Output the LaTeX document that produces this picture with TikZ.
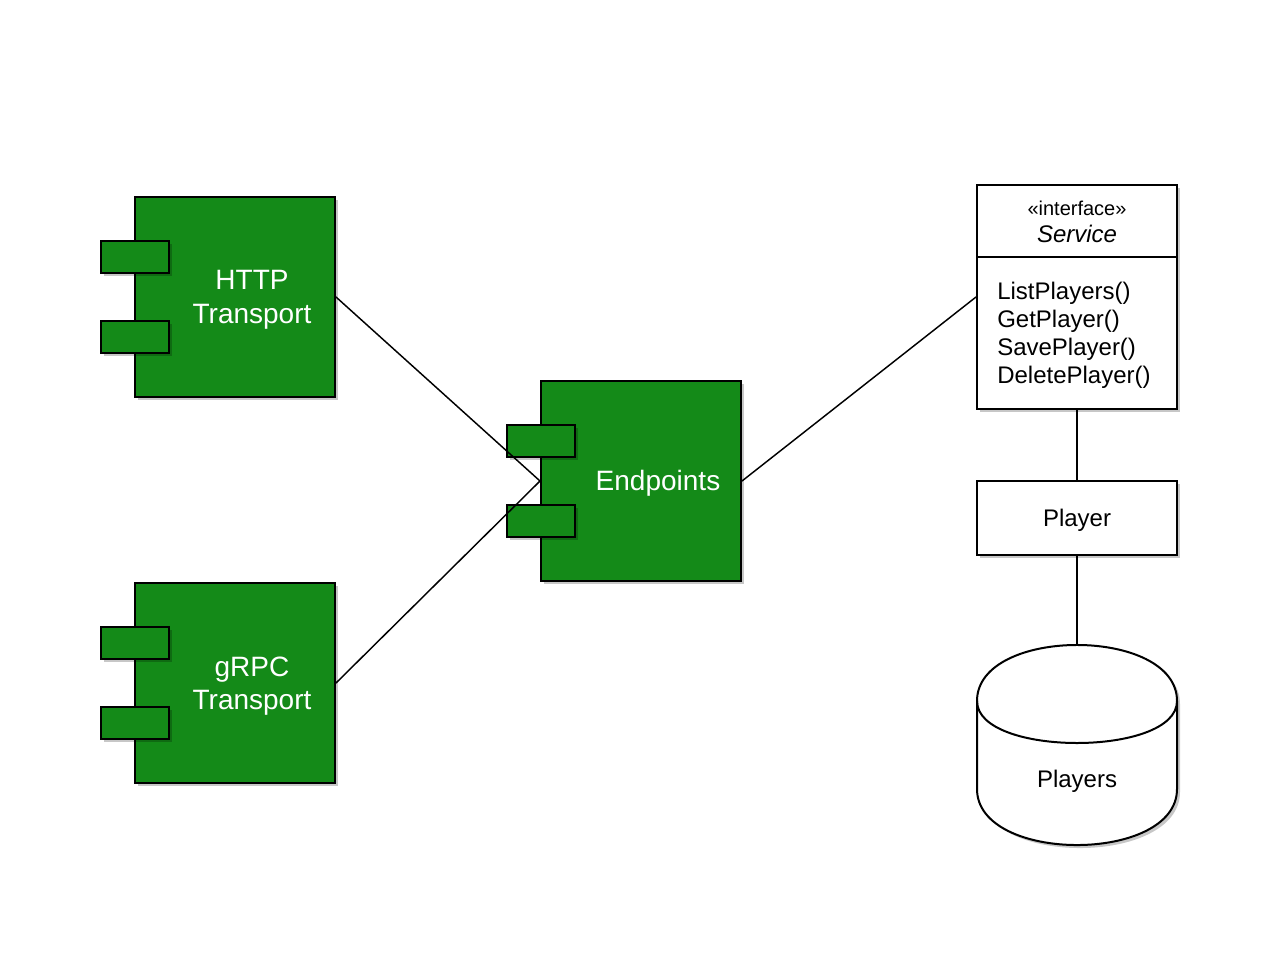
\documentclass[tikz,border=0pt]{standalone}
\usepackage{fontspec}
\setmainfont{Liberation Sans}
\usetikzlibrary{shadows}
\definecolor{compgreen}{RGB}{20,138,24}
\begin{document}
\begin{tikzpicture}[x=0.75pt,y=-0.75pt,
  shade/.style={drop shadow={shadow xshift=2.2pt,shadow yshift=-2.2pt,opacity=0.22,fill=black}},
  comp/.style={draw=black,line width=1.5pt,fill=compgreen,minimum width=150pt,minimum height=150pt,inner sep=0pt,shade},
  port/.style={draw=black,line width=1.5pt,fill=compgreen,minimum width=51pt,minimum height=24pt,inner sep=0pt,shade},
  complabel/.style={text=white,align=center,inner sep=0pt,font=\fontsize{21}{25.2}\selectfont},
  whitebox/.style={draw=black,line width=1.5pt,fill=white,minimum width=150pt,inner sep=0pt,shade},
  txt/.style={inner sep=0pt,font=\fontsize{18}{21}\selectfont},
  conn/.style={draw=black,line width=1.1pt}]
\useasboundingbox (0,0) rectangle (1280,960);

% HTTP Transport
\node[comp] (http) at (235,297) {};
\node[port] (httpp1) at (135,257) {};
\node[port] (httpp2) at (135,337) {};
\node[complabel] (httpl) at (252,300) {HTTP\\Transport};

% gRPC Transport
\node[comp] (grpc) at (235,683) {};
\node[port] (grpcp1) at (135,643) {};
\node[port] (grpcp2) at (135,723) {};
\node[complabel] (grpcl) at (252,686) {gRPC\\Transport};

% Endpoints
\node[comp] (endp) at (641,481) {};
\node[port] (endpp1) at (541,441) {};
\node[port] (endpp2) at (541,521) {};
\node[complabel] (endpl) at (658,483) {Endpoints};

% Service interface
\node[whitebox,minimum height=168pt] (svc) at (1077,297) {};
\draw[line width=1.5pt] (977,257) -- (1177,257);
\node[inner sep=0pt,font=\fontsize{15}{18}\selectfont] (svcst) at (1077,208.5) {«interface»};
\node[inner sep=0pt,font=\fontsize{18}{21}\selectfont\itshape] (svcname) at (1077,234) {Service};
\node[txt,anchor=west,align=left] (svcm) at (997,335) {ListPlayers()\\GetPlayer()\\SavePlayer()\\DeletePlayer()};

% Player
\node[whitebox,minimum height=55.5pt] (player) at (1077,518) {};
\node[txt] (playerl) at (1077,520) {Player};

% Players database (cylinder)
\fill[black,opacity=0.22,shift={(3,3)}] (977,701) .. controls (977,626.3) and (1177,626.3) .. (1177,701) -- (1177,789) .. controls (1177,863.7) and (977,863.7) .. (977,789) -- cycle;
\filldraw[fill=white,draw=black,line width=1.5pt] (977,701) .. controls (977,626.3) and (1177,626.3) .. (1177,701) -- (1177,789) .. controls (1177,863.7) and (977,863.7) .. (977,789) -- cycle;
\draw[line width=1.5pt] (977,701) .. controls (977,757) and (1177,757) .. (1177,701);
\coordinate (dbtop) at (1077,645);
\node[txt] (dbl) at (1077,781) {Players};

% connectors
\draw[conn] (http.east) -- (endp.west);
\draw[conn] (grpc.east) -- (endp.west);
\draw[conn] (endp.east) -- (svc.west);
\draw[conn] (svc.south) -- (player.north);
\draw[conn] (player.south) -- (dbtop);
\end{tikzpicture}
\end{document}
